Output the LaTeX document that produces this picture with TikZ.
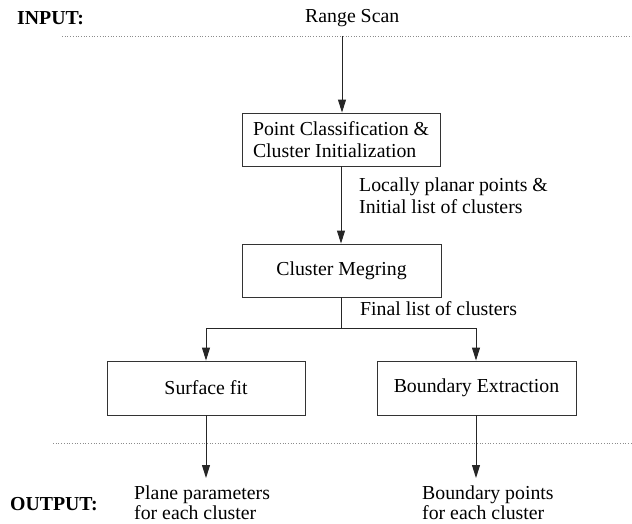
\documentclass[tikz,border=0pt]{standalone}
\usepackage{fontspec}
\setmainfont{Liberation Serif}
\usetikzlibrary{arrows.meta}
\begin{document}
\begin{tikzpicture}[x=1pt,y=-1pt,
  every node/.style={font=\fontsize{19.8}{22}\selectfont, inner sep=0pt},
  procbox/.style={draw=black!80, line width=0.9pt, align=left},
  conn/.style={draw=black!85, line width=0.9pt},
  arr/.style={conn, -{Triangle[length=13pt,width=8pt]}},
  sep/.style={draw=black!45, line width=0.7pt, dotted},
  lbl/.style={anchor=west, align=left}]
\useasboundingbox (0,0) rectangle (632,523);
% header / footer
\node[anchor=west, font=\fontsize{19.8}{22}\selectfont\bfseries] (inlbl) at (17,18) {INPUT:};
\node[anchor=west] (scan) at (305,18) {Range Scan};
\coordinate (tl) at (62,36);
\coordinate (tr) at (632,36);
\coordinate (in) at (342,36);
\draw[sep] (tl) -- (tr);
\coordinate (bl) at (53,443);
\coordinate (br) at (632,443);
\draw[sep] (bl) -- (br);
% boxes
\node[procbox, minimum width=198pt, minimum height=53pt] (b1) at (341,139.5)
  {Point Classification \&\\Cluster Initialization};
\node[procbox, minimum width=199pt, minimum height=53pt] (b2) at (341.5,270.5) {Cluster Megring};
\node[procbox, minimum width=198pt, minimum height=54pt] (b3) at (206,388) {Surface fit};
\node[procbox, minimum width=199pt, minimum height=54pt] (b4) at (476.5,388) {Boundary Extraction};
% labels
\node[lbl] (l1) at (359,196) {Locally planar points \&\\Initial list of clusters};
\node[lbl] (l2) at (360,309) {Final list of clusters};
% connectors
\draw[arr] (in) -- (b1.north -| in);
\draw[arr] (b1.south -| 341,0) -- (b2.north -| 341,0);
\coordinate (j) at (341,328);
\coordinate (jl) at (206,328);
\coordinate (jr) at (476,328);
\draw[conn] (b2.south -| j) -- (j);
\draw[conn] (jl) -- (jr);
\draw[arr] (jl) -- (b3.north -| jl);
\draw[arr] (jr) -- (b4.north -| jr);
\coordinate (o1) at (206,478);
\coordinate (o2) at (476,478);
\draw[arr] (b3.south -| o1) -- (o1);
\draw[arr] (b4.south -| o2) -- (o2);
% outputs
\node[anchor=west, font=\fontsize{19.8}{22}\selectfont\bfseries] (outlbl) at (10,504) {OUTPUT:};
\node[lbl, font=\fontsize{19.8}{20}\selectfont] (out1) at (134,503) {Plane parameters\\for each cluster};
\node[lbl, font=\fontsize{19.8}{20}\selectfont] (out2) at (422,503) {Boundary points\\for each cluster};
\end{tikzpicture}
\end{document}
